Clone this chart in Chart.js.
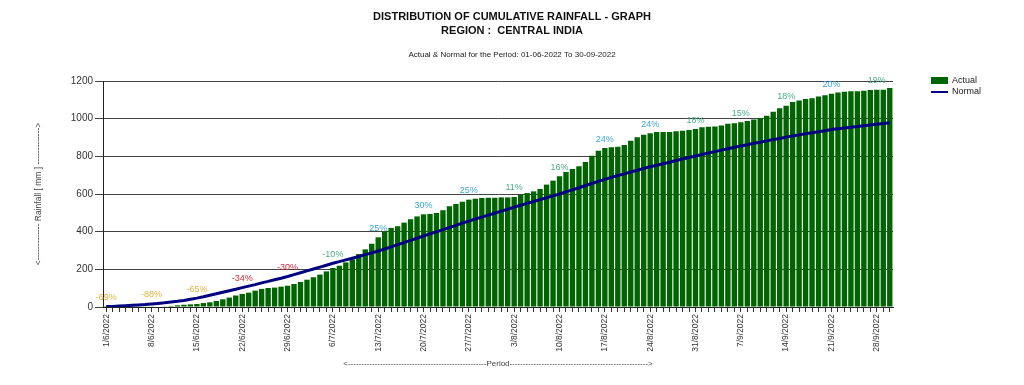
<!DOCTYPE html>
<html>
<head>
<meta charset="utf-8">
<script src="https://cdn.jsdelivr.net/npm/chart.js@4.4.1/dist/chart.umd.min.js"></script>
<style>
  body { margin: 0; background: #fff; }
  #wrap { width: 1024px; height: 385px; }
</style>
</head>
<body>
<div id="wrap"><canvas id="rainChart" width="1024" height="385"></canvas></div>
<script>
// cumulative rainfall (mm), one value per day 1/6/2022 .. 30/9/2022
const actual = [
  0.6, 0.9, 1.1, 1.3, 1.5, 1.7, 1.9, 2.0, 2.6, 3.5,
  5, 9, 12, 14, 16, 21, 25, 32, 41, 50,
  61, 69, 76, 87, 96, 101, 103, 108, 113, 122,
  133, 145, 158, 172, 189, 207, 219, 237, 253, 281,
  306, 336, 370, 402, 420, 429, 448, 466, 481, 492,
  494, 499, 514, 535, 547, 559, 570, 575, 579, 580,
  580, 582, 582, 584, 596, 605, 614, 627, 650, 671,
  694, 717, 733, 748, 770, 803, 830, 844, 848, 851,
  860, 883, 901, 915, 922, 929, 929, 929, 933, 936,
  940, 945, 954, 957, 959, 964, 973, 976, 981, 988,
  995, 1004, 1016, 1037, 1055, 1069, 1088, 1097, 1104, 1109,
  1118, 1125, 1132, 1139, 1143, 1145, 1146, 1148, 1152, 1154,
  1154, 1163
];
const normal = [
  2, 3, 5, 7, 9, 11, 13, 16, 19, 22,
  26, 30, 35, 41, 47, 54, 62, 70, 78, 86,
  94, 103, 111, 119, 128, 136, 145, 153, 162, 172,
  182, 192, 202, 212, 222, 232, 241, 250, 259, 268,
  278, 287, 297, 308, 319, 331, 342, 354, 365, 377,
  388, 399, 411, 422, 433, 445, 456, 467, 477, 488,
  498, 509, 519, 530, 540, 550, 560, 570, 580, 590,
  600, 611, 622, 633, 645, 656, 667, 678, 688, 698,
  707, 717, 726, 736, 745, 753, 761, 769, 778, 786,
  794, 802, 810, 818, 825, 833, 840, 848, 855, 862,
  869, 875, 882, 889, 895, 902, 908, 914, 920, 925,
  931, 936, 942, 946, 950, 954, 958, 962, 966, 970,
  974, 978
];
// departure from normal, shown every 7th day starting 1/6
const pctValues = [-69, -88, -65, -34, -30, -10, 25, 30, 25, 11, 16, 24, 24, 18, 15, 18, 20, 19];
const yTicks = [0, 200, 400, 600, 800, 1000, 1200];

const dates = [];
for (let i = 0; i < actual.length; i++) {
  const d = new Date(2022, 5, 1 + i);
  dates.push(d.getDate() + '/' + (d.getMonth() + 1) + '/' + d.getFullYear());
}

const FONT = '"Liberation Sans", Arial, sans-serif';

function pctColor(p) {
  if (p <= -60) return '#e2b13c';
  if (p <= -20) return '#d42a3c';
  if (p < 20) return '#4aae88';
  return '#3ea6d6';
}

const overlay = {
  id: 'overlay',
  afterDatasetsDraw(chart) {
    const { ctx, scales: { x, y } } = chart;
    ctx.save();
    ctx.font = '9px ' + FONT;
    ctx.textAlign = 'center';
    ctx.textBaseline = 'middle';
    pctValues.forEach((p, k) => {
      const i = k * 7;
      const top = Math.min(y.getPixelForValue(actual[i]), y.getPixelForValue(normal[i]));
      ctx.fillStyle = pctColor(p);
      ctx.fillText(p + '%', x.getPixelForValue(i), top - 9);
    });
    ctx.restore();
  },
  afterDraw(chart) {
    const ctx = chart.ctx;
    ctx.save();
    ctx.fillStyle = '#111';
    ctx.textAlign = 'center';
    ctx.textBaseline = 'middle';
    ctx.font = 'bold 11px ' + FONT;
    ctx.fillText('DISTRIBUTION OF CUMULATIVE RAINFALL - GRAPH', 512, 17);
    ctx.fillText('REGION :  CENTRAL INDIA', 512, 31);
    ctx.font = '8px ' + FONT;
    ctx.fillStyle = '#222';
    ctx.fillText('Actual & Normal for the Period: 01-06-2022 To 30-09-2022', 512, 55);

    // legend
    ctx.textAlign = 'left';
    ctx.font = '9px ' + FONT;
    ctx.fillStyle = '#006400';
    ctx.fillRect(931, 77, 17, 7);
    ctx.strokeStyle = '#000080';
    ctx.lineWidth = 2;
    ctx.beginPath();
    ctx.moveTo(931, 92);
    ctx.lineTo(948, 92);
    ctx.stroke();
    ctx.fillStyle = '#222';
    ctx.fillText('Actual', 952, 81);
    ctx.fillText('Normal', 952, 92);
    ctx.restore();
  }
};

new Chart(document.getElementById('rainChart'), {
  type: 'bar',
  data: {
    labels: dates,
    datasets: [
      {
        type: 'line',
        label: 'Normal',
        data: normal,
        borderColor: '#000080',
        borderWidth: 3,
        pointRadius: 0,
        fill: false,
        order: 0
      },
      {
        label: 'Actual',
        data: actual,
        backgroundColor: '#006400',
        barPercentage: 0.83,
        categoryPercentage: 1.0,
        order: 1
      }
    ]
  },
  options: {
    responsive: false,
    animation: false,
    layout: { padding: { top: 81, right: 131, left: 0, bottom: 0 } },
    plugins: {
      legend: { display: false },
      title: { display: false },
      tooltip: { enabled: false }
    },
    scales: {
      x: {
        afterFit(s) { s.height = 78; },
        grid: { drawOnChartArea: false, offset: false, tickLength: 5, color: '#333' },
        border: { color: '#222' },
        ticks: {
          autoSkip: false,
          minRotation: 90,
          maxRotation: 90,
          padding: 2,
          color: '#333',
          font: { family: FONT, size: 8.5 },
          callback: (v, i) => (i % 7 === 0 ? dates[i] : '')
        },
        title: {
          display: true,
          text: '<' + '-'.repeat(52) + 'Period' + '-'.repeat(52) + '>',
          color: '#444',
          font: { family: FONT, size: 8 },
          padding: { top: 0, bottom: 16 }
        }
      },
      y: {
        min: 0,
        max: 1200,
        afterFit(s) { s.width = 103; },
        afterBuildTicks(s) { s.ticks = yTicks.map(v => ({ value: v })); },
        grid: { color: '#444', tickLength: 8 },
        border: { color: '#222' },
        ticks: {
          color: '#333',
          padding: 2,
          font: { family: FONT, size: 10 },
          callback: v => String(v)
        },
        title: {
          display: true,
          text: '<' + '-'.repeat(13) + ' Rainfall [ mm ] ' + '-'.repeat(13) + '>',
          color: '#444',
          font: { family: FONT, size: 8.5 },
          padding: { top: 34, bottom: 0 }
        }
      }
    }
  },
  plugins: [overlay]
});
</script>
</body>
</html>
